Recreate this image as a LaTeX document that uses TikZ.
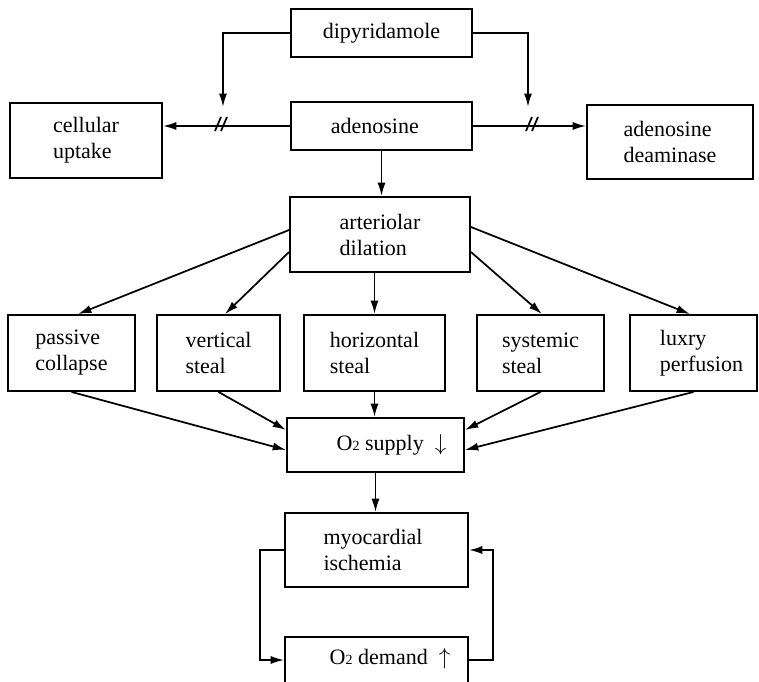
\documentclass[tikz,border=0pt]{standalone}
\usepackage{fontspec}
\setmainfont{Liberation Serif}
\usetikzlibrary{arrows.meta}
\newcommand{\Otwo}{O{\fontsize{10.5}{10.5}\selectfont 2}}
\begin{document}
\begin{tikzpicture}[x=0.75pt,y=-0.75pt,
  txt/.style={inner sep=0pt,align=left,font=\fontsize{16.5}{19.5}\selectfont},
  box/.style={draw,line width=1.4pt,rectangle,txt},
  arr/.style={line width=1.3pt,-{Latex[length=10pt,width=6pt]}},
  ln/.style={line width=1.3pt}]
\useasboundingbox (0,0) rectangle (759,681);
\fill[white] (0,0) rectangle (759,681);
% boxes
\node[box,minimum width=135.75pt,minimum height=36pt] (dip) at (381.5,33) {dipyridamole};
\node[box,minimum width=135.75pt,minimum height=36pt] (ado) at (381.5,126) {adenosine\hspace*{10pt}};
\node[box,minimum width=114pt,minimum height=56.25pt] (cell) at (86,140.5) {cellular\\uptake};
\node[box,minimum width=124.5pt,minimum height=55.5pt] (deam) at (670,142) {adenosine\\deaminase};
\node[box,minimum width=135pt,minimum height=56.25pt] (art) at (380,234.5) {arteriolar\\dilation};
\node[box,minimum width=95.25pt,minimum height=57pt] (pas) at (71.5,353) {passive\\collapse};
\node[box,minimum width=92.25pt,minimum height=57pt] (ver) at (218.5,353) {vertical\\steal};
\node[box,minimum width=105.75pt,minimum height=57pt] (hor) at (374.5,353) {horizontal\\steal};
\node[box,minimum width=95.25pt,minimum height=57pt] (sys) at (540.5,353) {systemic\\steal};
\node[box,minimum width=95.25pt,minimum height=57pt] (lux) at (693.5,353) {\hspace*{12pt}luxry\\\hspace*{12pt}perfusion};
\node[box,minimum width=132.75pt,minimum height=40.5pt] (sup) at (375.5,445) {\hspace*{24pt}\Otwo{} supply\ \ $\downarrow$};
\node[box,minimum width=137.25pt,minimum height=55.5pt] (myo) at (376.5,550) {};
\node[txt] (myot) at (373,550) {myocardial\\ischemia};
\node[box,minimum width=137.25pt,minimum height=40pt] (dem) at (376.5,664) {};
\node[txt] (demt) at (390,659) {\Otwo{} demand\ \ $\uparrow$};
% dipyridamole inhibition
\coordinate (cl) at (223,107);
\coordinate (cr) at (528,107);
\draw[arr] (dip.west) -| (cl);
\draw[arr] (dip.east) -| (cr);
\draw[arr] (ado.west) -- (ado.west -| cell.east);
\draw[arr] (ado.east) -- (ado.east -| deam.west);
\coordinate (sl) at (221,124);
\coordinate (sr) at (532,124);
\draw[ln] ([shift={(-6,7)}]sl) -- ([shift={(0,-7)}]sl) ([shift={(0,7)}]sl) -- ([shift={(6,-7)}]sl);
\draw[ln] ([shift={(-6,7)}]sr) -- ([shift={(0,-7)}]sr) ([shift={(0,7)}]sr) -- ([shift={(6,-7)}]sr);
% adenosine -> arteriolar
\draw[arr] (ado.south) -- (ado.south |- art.north);
% fan
\draw[arr] (art.west |- 0,230) -- (pas.north -| 78,0);
\draw[arr] (art.west |- 0,252) -- (ver.north -| 225,0);
\draw[arr] (art.south -| hor.north) -- (hor.north);
\draw[arr] (art.east |- 0,252) -- (sys.north -| 542,0);
\draw[arr] (art.east |- 0,227) -- (lux.north -| 690,0);
% into supply
\draw[arr] (pas.south) -- (sup.west |- 0,450);
\draw[arr] (ver.south) -- (sup.west |- 0,430);
\draw[arr] (hor.south) -- (hor.south |- sup.north);
\draw[arr] (sys.south) -- (sup.east |- 0,430);
\draw[arr] (lux.south) -- (sup.east |- 0,450);
% supply -> ischemia
\draw[arr] (sup.south) -- (sup.south |- myo.north);
% feedback loop
\draw[arr] (myo.west) -- ++(-24,0) |- (dem.west |- 0,660);
\draw[arr] (dem.east |- 0,660) -- ++(24,0) |- (myo.east);
\end{tikzpicture}
\end{document}
